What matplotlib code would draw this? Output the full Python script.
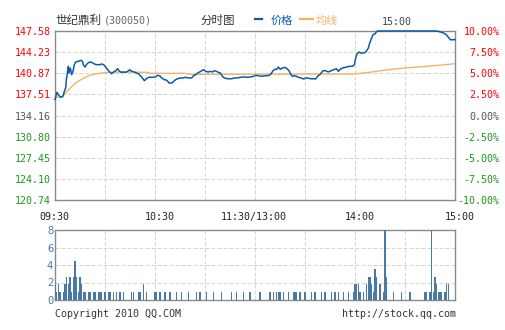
import matplotlib
matplotlib.use("Agg")
import matplotlib.pyplot as plt
from matplotlib.lines import Line2D

# ---- intraday data (minutes after 09:30, lunch break removed) ----
price_minutes = [0, 1.2, 2.0, 2.8, 3.6, 4.8, 5.6, 6.4, 6.8, 7.6, 8.0, 8.4, 9.2, 10.0, 10.8,
                 11.6, 12.4, 14.0, 15.6, 16.4, 17.2, 18.0, 18.8, 20.0, 21.2, 22.4, 23.6, 24.8,
                 26.8, 28.0, 29.2, 30.4, 31.6, 32.8, 34.0, 35.2, 36.4, 37.6, 38.4, 39.6, 41.2,
                 42.4, 43.6, 44.8, 46.0, 47.6, 48.8, 50.0, 51.2, 52.4, 53.6, 54.8, 56.4, 58.8,
                 60.0, 61.6, 62.8, 64.0, 65.6, 67.2, 68.4, 70.0, 71.2, 72.4, 73.6, 75.2, 76.8,
                 78.4, 80.0, 82.0, 83.2, 84.4, 85.6, 86.8, 88.0, 89.2, 90.4, 92.0, 93.2, 94.4,
                 95.6, 96.8, 98.0, 99.2, 100.4, 101.6, 103.6, 106.0, 107.6, 109.2, 111.2, 113.2,
                 115.2, 117.2, 119.2, 120.4, 122.0, 124.0, 126.0, 128.0, 129.6, 130.8, 132.0,
                 133.2, 134.0, 135.2, 136.4, 138.0, 139.2, 140.4, 141.6, 142.4, 143.6, 144.8,
                 146.0, 147.6, 149.2, 150.4, 151.6, 153.2, 155.2, 156.4, 157.6, 159.2, 160.8,
                 162.4, 164.0, 165.6, 167.2, 168.8, 170.0, 170.8, 172.4, 174.4, 176.4, 178.4,
                 179.6, 180.4, 181.2, 182.4, 183.6, 185.6, 186.8, 188.0, 188.8, 189.6, 190.8,
                 192.0, 192.8, 193.6, 228.0, 230.0, 231.2, 233.2, 234.8, 236.0, 237.2, 240.0]
price_values = [136.70, 137.84, 137.46, 137.21, 137.05, 137.21, 138.00, 138.53, 139.85, 141.18,
                141.97, 140.91, 141.70, 140.64, 141.18, 142.23, 142.66, 142.77, 142.93, 142.77,
                142.13, 141.86, 142.23, 142.55, 142.66, 142.55, 142.34, 142.23, 142.23, 142.34,
                142.23, 141.86, 141.43, 141.07, 140.80, 141.07, 141.27, 141.59, 141.27, 141.02,
                141.07, 141.02, 141.18, 141.43, 141.18, 141.07, 140.91, 140.80, 140.48, 140.12,
                139.69, 140.00, 140.23, 140.23, 140.27, 140.54, 140.48, 140.12, 139.85, 139.75,
                139.32, 139.32, 139.59, 139.85, 140.00, 140.12, 140.12, 140.23, 140.12, 140.12,
                140.48, 140.64, 140.91, 141.07, 141.27, 141.43, 141.18, 141.07, 141.18, 141.07,
                141.27, 141.18, 141.02, 140.91, 140.39, 140.12, 140.00, 140.00, 140.12, 140.12,
                140.23, 140.27, 140.23, 140.27, 140.39, 140.54, 140.48, 140.39, 140.48, 140.48,
                140.75, 141.27, 141.50, 141.50, 141.86, 141.50, 141.70, 141.81, 141.59, 141.27,
                140.64, 140.39, 140.48, 140.39, 140.23, 140.12, 139.96, 140.12, 140.12, 140.00,
                140.00, 139.96, 140.39, 140.75, 141.27, 141.27, 141.07, 141.27, 141.43, 141.59,
                141.18, 141.43, 141.70, 141.81, 141.97, 141.97, 142.23, 143.29, 143.93, 144.24,
                144.09, 144.09, 144.36, 144.88, 145.67, 146.20, 146.99, 147.15, 147.42, 147.58,
                147.58, 147.53, 147.42, 147.26, 146.99, 146.58, 146.20, 146.20]

avg_minutes = [0, 2.8, 4.8, 6.4, 8.0, 9.6, 11.2, 13.2, 15.6, 18.0, 20.8, 24.0, 28.0, 32.8, 38.8,
               55.8, 57.0, 78.0, 81.0, 180.0, 190.0, 200.0, 210.0, 220.0, 230.0, 240.0]
avg_values = [137.10, 137.05, 137.30, 137.73, 138.26, 138.64, 139.05, 139.48, 139.85, 140.23,
              140.54, 140.75, 140.91, 141.02, 141.07, 141.02, 140.86, 140.86, 140.70, 140.75,
              141.07, 141.43, 141.70, 141.91, 142.13, 142.39]

vol_minutes = [0, 1, 2, 3, 5, 6, 7, 8, 9, 10, 11, 12, 13, 14, 15, 16, 17, 18, 20, 21, 23, 24,
               26, 27, 28, 30, 32, 33, 35, 37, 39, 41, 46, 47, 50, 51, 53, 55, 60, 61, 63, 66,
               69, 73, 76, 80, 85, 87, 91, 95, 100, 106, 109, 113, 117,
               123, 129, 131, 133, 134, 135, 137, 140, 143, 144, 145, 147, 150, 154, 156, 160,
               162, 166, 168, 170, 173, 176, 179, 180, 181, 182, 183, 185, 187, 188, 189, 190,
               191, 192, 193, 195, 197, 198, 199, 203, 208, 213, 222, 223, 225, 226, 227, 228,
               229, 230, 231, 232, 234, 235, 236]
vol_values = [1.8, 0.9, 1.8, 0.9, 0.9, 1.8, 2.6, 1.8, 2.6, 0.9, 2.6, 4.5, 2.6, 0.9, 2.6, 1.8,
              0.9, 0.9, 0.9, 0.9, 0.9, 0.9, 0.9, 0.9, 0.9, 0.9, 0.9, 0.9, 0.9, 0.9, 0.9, 0.9,
              0.9, 0.9, 0.9, 0.9, 1.8, 0.9, 0.9, 0.9, 0.9, 0.9, 0.9, 0.9, 0.9, 0.9, 0.9, 0.9,
              0.9, 0.9, 0.9, 0.9, 0.9, 0.9, 0.9,
              0.9, 0.9, 0.9, 0.9, 0.9, 0.9, 0.9, 0.9, 0.9, 0.9, 0.9, 0.9, 0.9, 0.9, 0.9, 0.9,
              0.9, 0.9, 0.9, 0.9, 0.9, 0.9, 0.9, 1.8, 1.8, 1.8, 0.9, 0.9, 1.8, 2.6, 2.6, 1.8,
              0.9, 3.5, 2.6, 1.8, 0.9, 8.0, 2.6, 0.9, 0.9, 0.9, 0.9, 0.9, 0.9, 8.0, 0.9, 2.6,
              1.8, 0.9, 0.9, 0.9, 0.9, 1.8, 1.8]

price_ticks = [120.74, 124.10, 127.45, 130.80, 134.16, 137.51, 140.87, 144.23, 147.58]
price_labels = ["120.74", "124.10", "127.45", "130.80", "134.16", "137.51", "140.87", "144.23", "147.58"]
pct_labels = ["-10.00%", "-7.50%", "-5.00%", "-2.50%", "0.00%", "2.50%", "5.00%", "7.50%", "10.00%"]
label_colors = ["#1a9a1a"] * 4 + ["#555555"] + ["#ff0000"] * 4

time_ticks = [0, 60, 120, 180, 240]
time_labels = ["09:30", "10:30", "11:30/13:00", "14:00", "15:00"]
time_label_dx = [-1, 5, -1, 5, 5]   # pixel nudges of each time label
vol_ticks = [0, 2, 4, 6, 8]

# ---- styling ----
MONO = "DejaVu Sans Mono"
CJK = ["Noto Sans CJK SC", "DejaVu Sans"]
BLUE = "#0b5ca8"
ORANGE = "#f5b266"
GRID = "#d4d4d4"
SPINE = "#8a8a8a"
VOLC = "#4a79a3"

W, H = 505, 330
fig = plt.figure(figsize=(W / 100, H / 100), dpi=100)
fig.patch.set_facecolor("white")


def fx(px):
    return px / W


def fy(py):
    return 1 - py / H


def style_axes(a):
    for s in a.spines.values():
        s.set_color(SPINE)
        s.set_linewidth(1.0)
    a.set_xlim(0, 240)
    a.set_xticks(range(0, 241, 30))
    a.set_xticklabels([])
    a.tick_params(axis="both", length=0)
    a.grid(True, color=GRID, linewidth=0.72, linestyle=(0, (4, 2)))
    a.set_axisbelow(True)


# ---- price panel ----
ax = fig.add_axes([fx(55), fy(200), 400 / W, 169 / H])
style_axes(ax)
ax.set_ylim(price_ticks[0], price_ticks[-1])
ax.set_yticks(price_ticks, price_labels)
ax.tick_params(axis="y", pad=3.2, labelsize=7.2)
for lab, c in zip(ax.get_yticklabels(), label_colors):
    lab.set_color(c)
    lab.set_fontfamily(MONO)

ax.plot(avg_minutes, avg_values, color=ORANGE, linewidth=1.0, zorder=4)
ax.plot(price_minutes, price_values, color=BLUE, linewidth=1.1, zorder=5, clip_on=False)

ax2 = ax.twinx()
ax2.set_ylim(price_ticks[0], price_ticks[-1])
ax2.set_yticks(price_ticks, pct_labels)
ax2.tick_params(axis="y", length=0, pad=32.0, labelsize=7.2)
for s in ax2.spines.values():
    s.set_visible(False)
for lab, c in zip(ax2.get_yticklabels(), label_colors):
    lab.set_color(c)
    lab.set_fontfamily(MONO)
    lab.set_horizontalalignment("right")

for t, lab, dx in zip(time_ticks, time_labels, time_label_dx):
    ax.annotate(lab, xy=(t, 0), xycoords=("data", "axes fraction"),
                xytext=(dx, -16.7), textcoords="offset pixels",
                ha="center", va="center", fontsize=7.2, fontfamily=MONO, color="#222222")

# ---- volume panel ----
axv = fig.add_axes([fx(55), fy(300), 400 / W, 70 / H])
style_axes(axv)
axv.set_ylim(0, 8)
axv.set_yticks(vol_ticks, [str(v) for v in vol_ticks])
axv.tick_params(axis="y", pad=1.2, labelsize=7.6, labelcolor=VOLC)
for lab in axv.get_yticklabels():
    lab.set_fontfamily(MONO)
axv.bar(vol_minutes, vol_values, width=0.7, color=VOLC, linewidth=0, zorder=3)

# ---- header ----
fig.text(fx(55), fy(20.5), "世纪鼎利", fontfamily=CJK, fontsize=8.3, color="#333333", va="center")
fig.text(fx(104), fy(20.5), "(300050)", fontfamily=MONO, fontsize=7.2, color="#666666", va="center")
fig.text(fx(217.7), fy(20.5), "分时图", fontfamily=CJK, fontsize=8.3, color="#333333",
         va="center", ha="center")
fig.add_artist(Line2D([fx(255), fx(262)], [fy(19.3), fy(19.3)], color=BLUE, linewidth=1.6))
fig.text(fx(270.5), fy(20.5), "价格", fontfamily=CJK, fontsize=8.0, color=BLUE, va="center")
fig.add_artist(Line2D([fx(300), fx(313)], [fy(19.3), fy(19.3)], color=ORANGE, linewidth=1.6))
fig.text(fx(315.5), fy(20.5), "均线", fontfamily=CJK, fontsize=8.0, color=ORANGE, va="center")
fig.text(fx(396.3), fy(22.3), "15:00", fontfamily=MONO, fontsize=7.2, color="#444444",
         va="center", ha="center")

# ---- footer ----
fig.text(fx(55), fy(314.3), "Copyright 2010 QQ.COM", fontfamily=MONO, fontsize=7.2,
         color="#333333", va="center")
fig.text(fx(456), fy(314.3), "http://stock.qq.com", fontfamily=MONO, fontsize=7.2,
         color="#333333", va="center", ha="right")

fig.savefig("out.png", dpi=100, facecolor="white")
